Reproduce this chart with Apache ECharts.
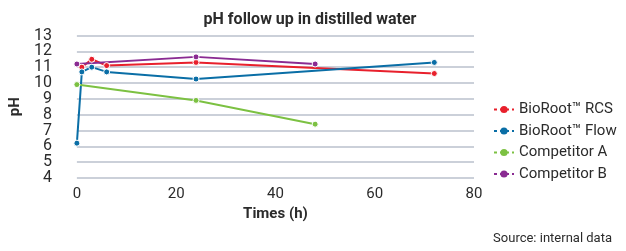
<!DOCTYPE html>
<html>
<head>
<meta charset="utf-8">
<script src="https://cdn.jsdelivr.net/npm/echarts@6/dist/echarts.min.js"></script>
<style>
  html, body { margin: 0; padding: 0; background: #fff; }
  #chart { width: 626px; height: 251px; }
</style>
</head>
<body>
<div id="chart"></div>
<script>
// pH values, [time (h), pH]
var seriesNames = ['BioRoot\u2122 RCS', 'BioRoot\u2122 Flow', 'Competitor A', 'Competitor B'];
var dataRCS = [[1, 11.0], [3, 11.5], [6, 11.1], [24, 11.3], [72, 10.6]];
var dataFlow = [[0, 6.2], [1, 10.7], [3, 11.0], [6, 10.7], [24, 10.25], [72, 11.3]];
var dataCompA = [[0, 9.9], [24, 8.9], [48, 7.4]];
var dataCompB = [[0, 11.2], [24, 11.65], [48, 11.2]];
var colors = ['#e8202c', '#0a6ea6', '#7cc142', '#8a2b92'];

var font = "Roboto, 'Liberation Sans', sans-serif";

function makeSerie(name, data, color) {
  return {
    name: name,
    type: 'line',
    data: data,
    color: color,
    symbol: 'circle',
    symbolSize: 6,
    lineStyle: { width: 2, color: color },
    itemStyle: { color: color, borderColor: '#fff', borderWidth: 1 },
    emphasis: { disabled: true }
  };
}

var chart = echarts.init(document.getElementById('chart'));
chart.setOption({
  animation: false,
  textStyle: { fontFamily: font },
  title: [{
    text: 'pH follow up in distilled water',
    left: 305, top: 7, textAlign: 'center',
    textStyle: { fontFamily: font, fontSize: 16, fontWeight: 'bold', color: '#2b2b2b' }
  }, {
    text: 'Source: internal data',
    right: 9, top: 227,
    textStyle: { fontFamily: font, fontSize: 13, fontWeight: 'normal', color: '#2b2b2b' }
  }],
  legend: {
    orient: 'vertical',
    left: 488, top: 97,
    itemWidth: 20, itemHeight: 9, itemGap: 6.5,
    data: seriesNames,
    lineStyle: { type: [3, 3], width: 2 },
    itemStyle: { borderWidth: 0 },
    textStyle: { fontFamily: font, fontSize: 15, color: '#2b2b2b' }
  },
  grid: { left: 72, right: 152, top: 35.5, bottom: 73 },
  xAxis: {
    type: 'value', min: 0, max: 80, interval: 20,
    name: 'Times (h)', nameLocation: 'middle', nameGap: 27,
    nameTextStyle: { fontFamily: font, fontSize: 15, fontWeight: 'bold', color: '#2b2b2b' },
    axisLine: { show: false }, axisTick: { show: false }, splitLine: { show: false },
    axisLabel: { fontFamily: font, fontSize: 15, color: '#2b2b2b', margin: 9 }
  },
  yAxis: {
    type: 'value', min: 4, max: 13, interval: 1,
    name: 'pH', nameLocation: 'middle', nameGap: 38, nameRotate: 90,
    nameTextStyle: { fontFamily: font, fontSize: 15, fontWeight: 'bold', color: '#2b2b2b' },
    axisLine: { show: false }, axisTick: { show: false },
    splitLine: { lineStyle: { color: '#cbd0d9', width: 2 } },
    axisLabel: { fontFamily: font, fontSize: 16, color: '#2b2b2b', margin: 25 }
  },
  series: [
    makeSerie(seriesNames[0], dataRCS, colors[0]),
    makeSerie(seriesNames[1], dataFlow, colors[1]),
    makeSerie(seriesNames[2], dataCompA, colors[2]),
    makeSerie(seriesNames[3], dataCompB, colors[3])
  ]
});
</script>
</body>
</html>
